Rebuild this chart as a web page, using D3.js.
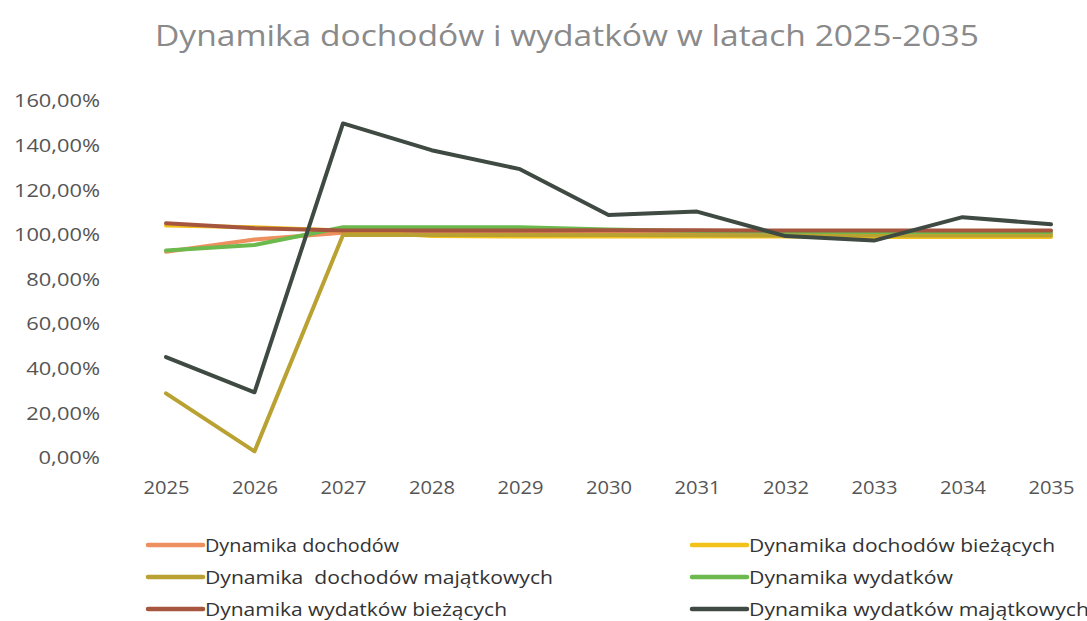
<!DOCTYPE html>
<html><head><meta charset="utf-8">
<script src="https://cdn.jsdelivr.net/npm/d3@7"></script>
<style>body{margin:0;background:#fff}svg{display:block}text{white-space:pre}</style>
</head><body>
<svg id="c" width="1087" height="621"></svg>
<script>
const years = ["2025","2026","2027","2028","2029","2030","2031","2032","2033","2034","2035"];
const yTicks = [0,20,40,60,80,100,120,140,160];
const dochodow          = [92.0, 97.5, 100.5, 100.5, 100.5, 100.5, 100.3, 100.3, 100.2, 100.2, 100.2];
const dochodowBiezacych = [103.8, 103.0, 101.5, 99.0, 98.8, 98.8, 98.8, 98.8, 98.6, 98.6, 98.6];
const dochodowMajatk    = [28.5, 2.5, 99.5, 99.5, 99.5, 99.5, 99.4, 99.3, 99.3, 99.3, 99.3];
const wydatkow          = [92.5, 95.0, 103.0, 103.0, 103.0, 102.0, 101.3, 101.0, 100.8, 100.8, 100.8];
const wydatkowBiezacych = [104.8, 102.5, 101.5, 101.5, 101.5, 101.6, 101.6, 101.5, 101.5, 101.5, 101.5];
const wydatkowMajatk    = [44.8, 29.0, 149.5, 137.5, 129.0, 108.5, 110.0, 99.0, 97.0, 107.5, 104.3];

const series = [
  {name:"Dynamika dochodów", values:dochodow, color:"#ee8f5f"},
  {name:"Dynamika dochodów bieżących", values:dochodowBiezacych, color:"#f2c21b"},
  {name:"Dynamika  dochodów majątkowych", values:dochodowMajatk, color:"#b9a232"},
  {name:"Dynamika wydatków", values:wydatkow, color:"#6cb94e"},
  {name:"Dynamika wydatków bieżących", values:wydatkowBiezacych, color:"#a6563f"},
  {name:"Dynamika wydatków majątkowych", values:wydatkowMajatk, color:"#3e4a42"}
];

const svg = d3.select("#c");
const font = "'Open Sans', 'DejaVu Sans', sans-serif";

svg.append("text").attr("x",567).attr("y",46).attr("text-anchor","middle")
  .attr("font-family",font).attr("font-size",30).attr("fill","#8a8a8a")
  .attr("textLength",824).attr("lengthAdjust","spacingAndGlyphs")
  .text("Dynamika dochodów i wydatków w latach 2025-2035");

const x = d3.scalePoint().domain(years).range([166,1051]);
const y = d3.scaleLinear().domain([0,160]).range([457,100]);

const yAxis = svg.append("g").attr("transform","translate(100,0)")
  .call(d3.axisLeft(y).tickValues(yTicks).tickSize(0).tickPadding(0)
    .tickFormat(d => d3.format(".2f")(d).replace(".",",") + "%"));
yAxis.select(".domain").remove();
yAxis.selectAll("text").attr("font-family",font).attr("font-size",19).attr("fill","#555")
  .attr("dy","0.36em").attr("lengthAdjust","spacingAndGlyphs");
yAxis.selectAll("text").each(function(){
  const t = d3.select(this); const n = t.text().length;
  t.attr("textLength", n*12.3);
});

const xAxis = svg.append("g").attr("transform","translate(0,480)")
  .call(d3.axisBottom(x).tickSize(0).tickPadding(0));
xAxis.select(".domain").remove();
xAxis.selectAll("text").attr("font-family",font).attr("font-size",19).attr("fill","#555")
  .attr("dy","0.72em").attr("textLength",46).attr("lengthAdjust","spacingAndGlyphs");

const line = d3.line().x((d,i)=>x(years[i])).y(d=>y(d));
svg.append("g").selectAll("path").data(series).join("path")
  .attr("d", d=>line(d.values)).attr("fill","none")
  .attr("stroke", d=>d.color).attr("stroke-width",4)
  .attr("stroke-linejoin","round").attr("stroke-linecap","round");

const legendPos = [[148,545],[692,545],[148,577],[692,577],[148,609],[692,609]];
const lg = svg.append("g").selectAll("g").data(series).join("g")
  .attr("transform",(d,i)=>`translate(${legendPos[i][0]},${legendPos[i][1]})`);
lg.append("line").attr("x1",0).attr("x2",55).attr("y1",0).attr("y2",0)
  .attr("stroke",d=>d.color).attr("stroke-width",4.5).attr("stroke-linecap","round");
lg.append("text").attr("x",57).attr("y",0).attr("dy","0.36em")
  .attr("font-family",font).attr("font-size",19).attr("fill","#333")
  .attr("lengthAdjust","spacingAndGlyphs")
  .attr("textLength",(d,i)=>[194,306,348,204,302,340][i])
  .text(d=>d.name);
</script>
</body></html>
